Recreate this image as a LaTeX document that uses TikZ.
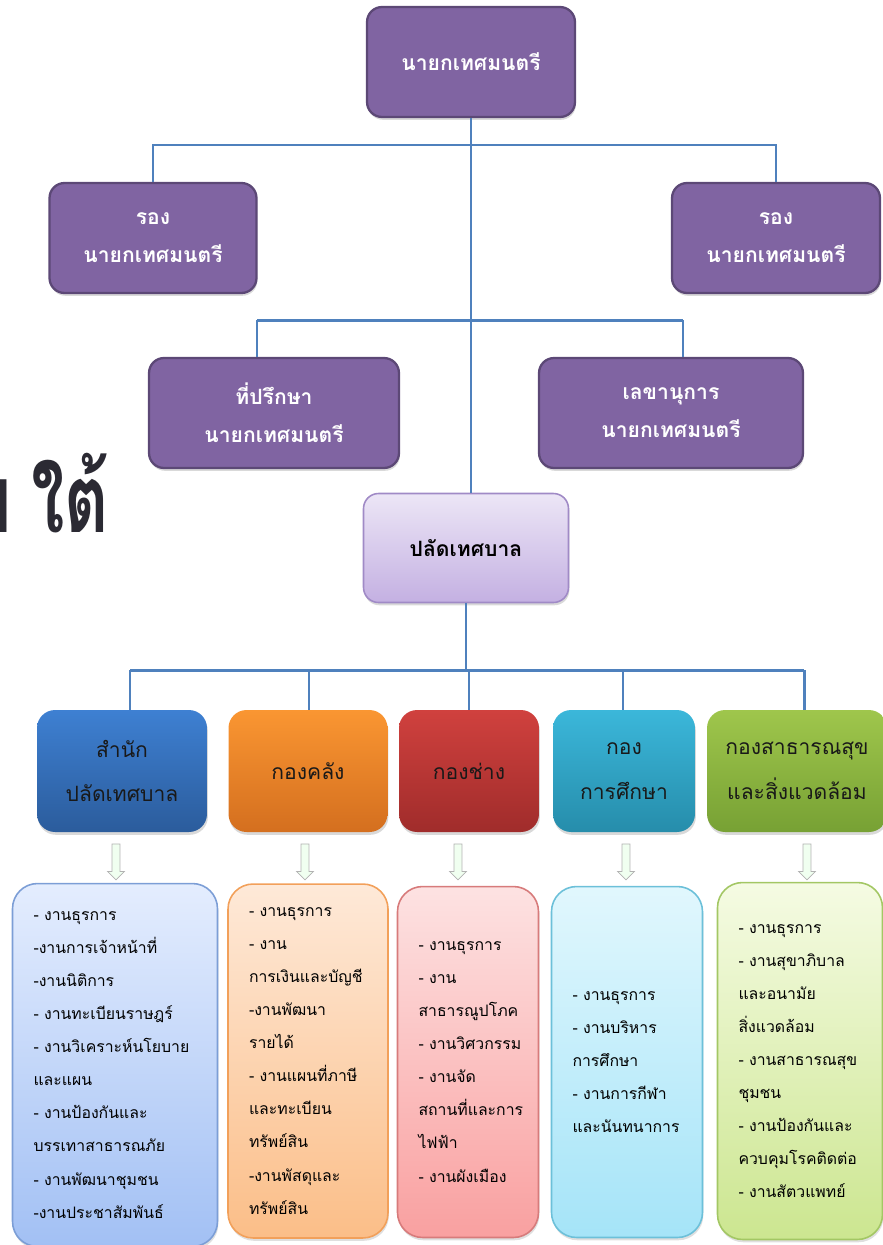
\documentclass[tikz,border=0pt]{standalone}
\usepackage{fontspec}
\newfontfamily\thai[Script=Thai]{Loma}
\newfontfamily\thaititle[Script=Thai,FakeStretch=0.72]{Loma}
\usetikzlibrary{shapes.arrows,shadows}
\definecolor{linkblue}{HTML}{4F81BD}
\definecolor{boss}{HTML}{8064A2}
\definecolor{bossline}{HTML}{5C4876}
\definecolor{titleink}{HTML}{2B2A33}
\definecolor{clerktop}{HTML}{ECE6F6}
\definecolor{clerkbot}{HTML}{C4B0E2}
\definecolor{clerkline}{HTML}{A08AC6}
\definecolor{bluetop}{HTML}{3E80D2}
\definecolor{bluebot}{HTML}{2B5C9C}
\definecolor{orangetop}{HTML}{FA9632}
\definecolor{orangebot}{HTML}{D46F1F}
\definecolor{redtop}{HTML}{D0413E}
\definecolor{redbot}{HTML}{A02C2B}
\definecolor{cyantop}{HTML}{3BB7DA}
\definecolor{cyanbot}{HTML}{268DAB}
\definecolor{greentop}{HTML}{9FC64C}
\definecolor{greenbot}{HTML}{77A134}
\definecolor{bluelt}{HTML}{E4EDFE}
\definecolor{bluelb}{HTML}{A2C0F4}
\definecolor{bluell}{HTML}{7C9ED6}
\definecolor{orangelt}{HTML}{FEE9D8}
\definecolor{orangelb}{HTML}{FBBE88}
\definecolor{orangell}{HTML}{F2A05A}
\definecolor{redlt}{HTML}{FDE2E2}
\definecolor{redlb}{HTML}{F9A0A0}
\definecolor{redll}{HTML}{D77B7B}
\definecolor{cyanlt}{HTML}{E1F7FD}
\definecolor{cyanlb}{HTML}{A5E4F8}
\definecolor{cyanll}{HTML}{6CC0D9}
\definecolor{greenlt}{HTML}{F5FBE3}
\definecolor{greenlb}{HTML}{CCE690}
\definecolor{greenll}{HTML}{A3C764}
\exhyphenpenalty=10000

\begin{document}
\begin{tikzpicture}[x=0.02cm,y=-0.02cm,every node/.style={inner sep=2pt},
        link/.style={draw=linkblue,line width=1.7pt},
        boss/.style={rounded corners=0.3cm,fill=boss,draw=bossline,line width=1.3pt,
          text=white,align=center,minimum height=2.2cm,
          font=\thai\bfseries\fontsize{12}{21.5}\selectfont,
          drop shadow={opacity=0.3,shadow xshift=0.5pt,shadow yshift=-1.6pt}},
        dept/.style={rounded corners=0.36cm,top color=#1top,bottom color=#1bot,
          minimum height=2.44cm,align=center,text=black!90,
          font=\thai\fontsize{12}{25.5}\selectfont,
          drop shadow={opacity=0.3,shadow xshift=0.5pt,shadow yshift=-1.6pt}},
        tasks/.style={rounded corners=0.5cm,top color=#1lt,bottom color=#1lb,
          draw=#1ll,line width=0.9pt,align=left,inner xsep=0.42cm,
          font=\thai\fontsize{9}{18.8}\selectfont,
          drop shadow={opacity=0.25,shadow xshift=0.5pt,shadow yshift=-1.6pt}},
        updown/.style={single arrow,shape border rotate=270,minimum height=0.72cm,
          minimum width=0.34cm,single arrow head extend=0.09cm,inner sep=0.07cm,
          fill=green!6,draw=black!30,line width=0.4pt}]
       \useasboundingbox(0,0)rectangle(883,1245);
       \clip(0,0)rectangle(883,1245);
       \node[anchor=base east,text=titleink,font=\thaititle\bfseries\fontsize{54}{60}\selectfont]
         (title)at(113,532){บ\kern11ptใต้};
       \node[boss,minimum width=4.16cm](mayor)at(471,62){นายกเทศมนตรี};
       \node[boss,minimum width=4.14cm](vice1)at(153,238){รอง\\นายกเทศมนตรี};
       \node[boss,minimum width=4.16cm](vice2)at(776,238){รอง\\นายกเทศมนตรี};
       \node[boss,minimum width=5cm](adv)at(274,413){ที่ปรึกษา\\นายกเทศมนตรี};
       \node[boss,minimum width=5.28cm](sec)at(671,413){เลขานุการ\\นายกเทศมนตรี};
       \node[rounded corners=0.3cm,top color=clerktop,bottom color=clerkbot,
         draw=clerkline,line width=0.9pt,minimum width=4.1cm,minimum height=2.18cm,
         font=\thai\bfseries\fontsize{12}{20}\selectfont,
         drop shadow={opacity=0.3,shadow xshift=0.5pt,shadow yshift=-1.6pt}]
         (clerk)at(466,548){ปลัดเทศบาล};
       \node[dept=blue,minimum width=3.4cm](k1)at(122,771){สำนัก\\ปลัดเทศบาล};
       \node[dept=orange,minimum width=3.18cm](k2)at(308,771){กองคลัง};
       \node[dept=red,minimum width=2.8cm](k3)at(469,771){กองช่าง};
       \node[dept=cyan,minimum width=2.84cm](k4)at(624,771){กอง\\การศึกษา};
       \node[dept=green,minimum width=3.6cm](k5)at(797,771){กองสาธารณสุข\\และสิ่งแวดล้อม};
       \foreach \n/\x in {a1/116,a2/305,a3/458,a4/626,a5/807}
         \node[updown](\n)at(\x,860){};
       \node[tasks=blue,minimum height=7.26cm,text width=3.26cm](l1)at(115,1065){%
         -~งานธุรการ\\-งานการเจ้าหน้าที่\\-งานนิติการ\\
         -~งานทะเบียนราษฎร์\\-~งานวิเคราะห์นโยบาย\\และแผน\\-~งานป้องกันและ\\
         บรรเทาสาธารณภัย\\-~งานพัฒนาชุมชน\\-งานประชาสัมพันธ์};
       \node[tasks=orange,minimum height=7.08cm,text width=2.36cm](l2)at(308,1061){%
         -~งานธุรการ\\-~งาน\\การเงินและบัญชี\\
         -งานพัฒนา\\รายได้\\-~งานแผนที่ภาษี\\และทะเบียน\\ทรัพย์สิน\\-งานพัสดุและ\\ทรัพย์สิน};
       \node[tasks=red,minimum height=7.02cm,text width=1.98cm](l3)at(468,1062){%
         -~งานธุรการ\\-~งาน\\สาธารณูปโภค\\
         -~งานวิศวกรรม\\-~งานจัด\\สถานที่และการ\\ไฟฟ้า\\-~งานผังเมือง};
       \node[tasks=cyan,minimum height=7.02cm,text width=2.18cm](l4)at(627,1062){%
         -~งานธุรการ\\-~งานบริหาร\\การศึกษา\\
         -~งานการกีฬา\\และนันทนาการ};
       \node[tasks=green,minimum height=7.14cm,text width=2.46cm](l5)at(800,1061){%
         -~งานธุรการ\\-~งานสุขาภิบาล\\และอนามัย\\
         สิ่งแวดล้อม\\-~งานสาธารณสุข\\ชุมชน\\-~งานป้องกันและ\\ควบคุมโรคติดต่อ\\-~งานสัตวแพทย์};
       \coordinate(j1)at(471,145);
       \coordinate(j2l)at(257,320);
       \coordinate(j2r)at(683,320);
       \coordinate(j3l)at(130,670);
       \coordinate(j3r)at(804,670);
       \draw[link](mayor)--(j1);
       \draw[link](j1)-|(vice1);
       \draw[link](j1)-|(vice2);
       \draw[link](j1)--(j1|-clerk.north);
       \draw[link](j2l)--(j2r);
       \draw[link](j2l)--(j2l|-adv.north);
       \draw[link](j2r)--(j2r|-sec.north);
       \draw[link](clerk.south)--(clerk.south|-j3l);
       \draw[link](j3l)--(j3r);
       \foreach \k/\x in {k1/130,k2/309,k3/469,k4/623,k5/804}
         \draw[link](\x,670)--(\x,670|-\k.north);
    \end{tikzpicture}
\end{document}
